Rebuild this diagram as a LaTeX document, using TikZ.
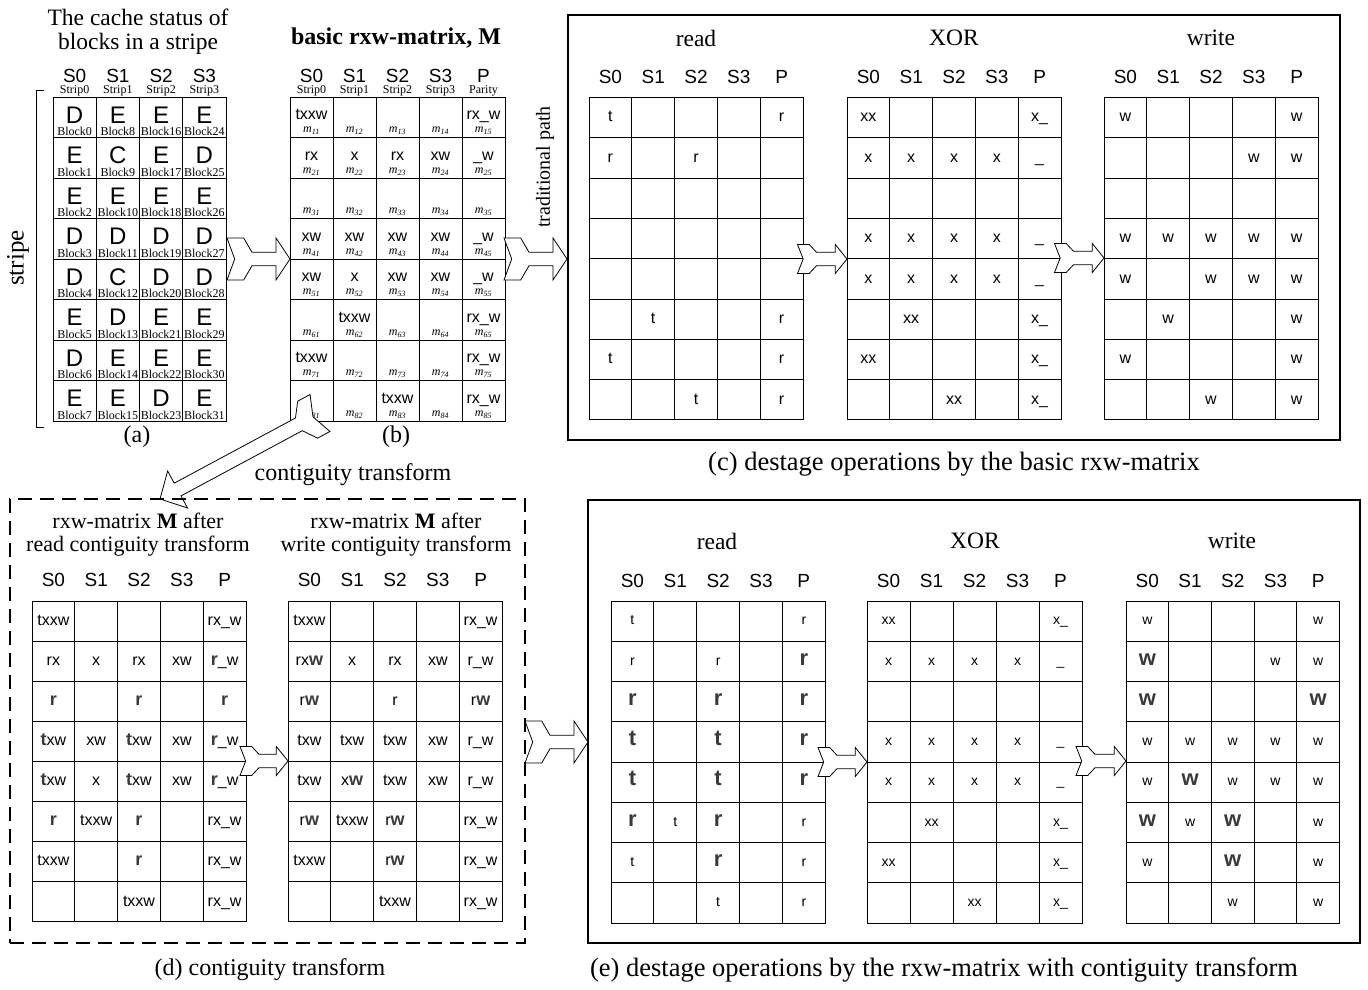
\documentclass[tikz,border=0pt]{standalone}
\usepackage{fontspec}
\setmainfont{Liberation Serif}
\setsansfont{Liberation Sans}
\usetikzlibrary{calc}
\definecolor{hl}{HTML}{3A3A3A}
\newcommand\fs[1]{\fontsize{#1}{#1}\selectfont}
\newcommand\hlD[1]{{\fs{18}\bfseries\color{hl}#1}}
\newcommand\hlE[1]{{\fs{22}\bfseries\color{hl}#1}}
\tikzset{
  gbox/.style={draw, line width=0.9pt, inner sep=0pt, anchor=center},
  hdr/.style={font=\sffamily\fs{19}, inner sep=0pt},
  ttl/.style={font=\fs{23.5}, inner sep=0pt},
  captxt/.style={font=\fs{24}, inner sep=0pt},
  bigcap/.style={font=\fs{26.5}, inner sep=0pt},
  subtxt/.style={font=\fs{12}, inner sep=0pt},
  ctxtC/.style={font=\sffamily\fs{16}, text height=8.5pt, text depth=0pt},
  ctxtD/.style={font=\sffamily\fs{16}, text height=8.5pt, text depth=0pt},
  ctxtE/.style={font=\sffamily\fs{14}, text height=7.5pt, text depth=0pt},
  btxt/.style={font=\sffamily\fs{16}, inner sep=0pt, text height=8.5pt, text depth=0pt},
  blockarrow/.style={draw, fill=white, line width=0.8pt, line join=miter},
  solidbox/.style={draw, line width=2.4pt, inner sep=0pt},
  dashbox/.style={draw, line width=2.6pt, dash pattern=on 14pt off 8pt, inner sep=0pt},
}
% grid: #1 name, #2 x0, #3 y0, #4 col w, #5 row h, #6 text style, #7 rows
\newcommand\mkgrid[7]{%
  \foreach \rowc [count=\i] in {#7} {
    \foreach \cellc [count=\j] in \rowc {
      \node[gbox, minimum width=#4pt, minimum height=#5pt, #6] (#1-\i-\j)
        at ({#2+(\j-0.5)*#4},{#3+(\i-0.5)*#5}) {\cellc};
    }
  }
}
% headers: #1 name, #2 x0, #3 col w, #4 y, #5 list
\newcommand\mkhdr[5]{%
  \foreach \hh [count=\j] in {#5} {
    \node[hdr] (#1-\j) at ({#2+(\j-0.5)*#3},#4) {\hh};
  }
}
% chevron block arrow: #1 tail, #2 tip, #3 H, #4 h, #5 a, #6 b, #7 head length, #8 notch
\newcommand\chev[8]{%
\draw[blockarrow]
 ($(#1)!#3pt!90:(#2)$) --
 ($ ($(#1)!#5pt!(#2)$) !#3pt!90:(#2) $) --
 ($ ($(#1)!#6pt!(#2)$) !#4pt!90:(#2) $) --
 ($ ($(#2)!#7pt!(#1)$) !#4pt!-90:(#1) $) --
 ($ ($(#2)!#7pt!(#1)$) !#3pt!-90:(#1) $) --
 (#2) --
 ($ ($(#2)!#7pt!(#1)$) !-#3pt!-90:(#1) $) --
 ($ ($(#2)!#7pt!(#1)$) !-#4pt!-90:(#1) $) --
 ($ ($(#1)!#6pt!(#2)$) !-#4pt!90:(#2) $) --
 ($ ($(#1)!#5pt!(#2)$) !-#3pt!90:(#2) $) --
 ($(#1)!-#3pt!90:(#2)$) --
 ($(#1)!#8pt!(#2)$) -- cycle;
}
\newcommand\bigchev[2]{\chev{#1}{#2}{21}{6.7}{16.7}{25}{14}{7.7}}
\newcommand\smallchev[2]{\chev{#1}{#2}{14.5}{6.7}{11.7}{19}{11.7}{5.7}}
\begin{document}
\begin{tikzpicture}[x=1pt,y=-1pt]
\useasboundingbox (0,0) rectangle (1368,990);
\fill[white] (0,0) rectangle (1368,990);

% ---------------- (a) ----------------
\node[ttl] (atitle1) at (138,17) {The cache status of};
\node[ttl] (atitle2) at (138,44) {blocks in a stripe};
\mkhdr{Ah}{53}{43.25}{76}{S0,S1,S2,S3}
\foreach \s [count=\j] in {0,1,2,3} {
  \node[subtxt] (As-\j) at ({53+(\j-0.5)*43.25},90.5) {Strip\s};
}
\foreach \rowc [count=\i] in {{D,E,E,E},{E,C,E,D},{E,E,E,E},{D,D,D,D},{D,C,D,D},{E,D,E,E},{D,E,E,E},{E,E,D,E}} {
  \foreach \cellc [count=\j] in \rowc {
    \pgfmathtruncatemacro\bn{(\j-1)*8+\i-1}
    \node[gbox, minimum width=43.25pt, minimum height=40.5pt] (A-\i-\j)
      at ({53+(\j-0.5)*43.25},{97+(\i-0.5)*40.5}) {};
    \node[font=\sffamily\fs{24}, inner sep=0pt, text height=17pt, text depth=0pt] (A-\i-\j-t)
      at ($(A-\i-\j.north)+(0,18)$) {\cellc};
    \node[subtxt] (A-\i-\j-b) at ($(A-\i-\j.south)+(0,-6.5)$) {Block\bn};
  }
}
\coordinate (brt) at (44,90);
\coordinate (brb) at (44,427);
\draw[line width=0.8pt] (brt) -- ++(-8,0) |- (brb);
\node[ttl, font=\fs{25}, rotate=90] (stripe) at (18,258) {stripe};
\node[captxt] (capa) at (137,437) {(a)};

% ---------------- (b) ----------------
\node[ttl, font=\fs{24}\bfseries] (btitle) at (396,38) {basic rxw-matrix, M};
\mkhdr{Bh}{290}{43}{76}{S0,S1,S2,S3,P}
\foreach \s [count=\j] in {Strip0,Strip1,Strip2,Strip3,Parity} {
  \node[subtxt] (Bs-\j) at ({290+(\j-0.5)*43},90.5) {\s};
}
\foreach \rowc [count=\i] in {{txxw,{},{},{},rx\_w},{rx,x,rx,xw,\_w},{{},{},{},{},{}},{xw,xw,xw,xw,\_w},{xw,x,xw,xw,\_w},{{},txxw,{},{},rx\_w},{txxw,{},{},{},rx\_w},{{},{},txxw,{},rx\_w}} {
  \foreach \cellc [count=\j] in \rowc {
    \node[gbox, minimum width=43pt, minimum height=40.5pt] (B-\i-\j)
      at ({290+(\j-0.5)*43},{97+(\i-0.5)*40.5}) {};
    \node[btxt] (B-\i-\j-t) at ($(B-\i-\j.north)+(0,19)$) {\cellc};
    \node[subtxt] (B-\i-\j-m) at ($(B-\i-\j.south)+(0,-7)$) {\textit{m}\textsubscript{\textit{\i\j}}};
  }
}
\node[captxt] (capb) at (396,437) {(b)};

% ---------------- (c) ----------------
\node[solidbox, minimum width=772pt, minimum height=425pt] (cbox) at (954,227.5) {};
\node[ttl] (cread) at (696,38) {read};
\node[ttl] (cxor) at (954,38) {XOR};
\node[ttl] (cwrite) at (1211,38) {write};
\mkhdr{CRh}{589}{42.8}{77}{S0,S1,S2,S3,P}
\mkhdr{CXh}{847}{42.8}{77}{S0,S1,S2,S3,P}
\mkhdr{CWh}{1104}{42.8}{77}{S0,S1,S2,S3,P}
\mkgrid{CR}{589}{97.5}{42.8}{40.3}{ctxtC}{{t,{},{},{},r},{r,{},r,{},{}},{{},{},{},{},{}},{{},{},{},{},{}},{{},{},{},{},{}},{{},t,{},{},r},{t,{},{},{},r},{{},{},t,{},r}}
\mkgrid{CX}{847}{97.5}{42.8}{40.3}{ctxtC}{{xx,{},{},{},x\_},{x,x,x,x,\_},{{},{},{},{},{}},{x,x,x,x,\_},{x,x,x,x,\_},{{},xx,{},{},x\_},{xx,{},{},{},x\_},{{},{},xx,{},x\_}}
\mkgrid{CW}{1104}{97.5}{42.8}{40.3}{ctxtC}{{w,{},{},{},w},{{},{},{},w,w},{{},{},{},{},{}},{w,w,w,w,w},{w,{},w,w,w},{{},w,{},{},w},{w,{},{},{},w},{{},{},w,{},w}}
\node[ttl, font=\fs{20}, rotate=90] (trad) at (545,167) {traditional path};
\node[bigcap] (capc) at (954,464) {(c) destage operations by the basic rxw-matrix};

% ---------------- (d) ----------------
\node[ttl, font=\fs{22}] (dl1) at (138,521) {rxw-matrix \textbf{M} after};
\node[ttl, font=\fs{22}] (dl2) at (138,546) {read contiguity transform};
\node[ttl, font=\fs{22}] (dr1) at (396,521) {rxw-matrix \textbf{M} after};
\node[ttl, font=\fs{22}] (dr2) at (396,546) {write contiguity transform};
\mkhdr{DLh}{32}{42.8}{580}{S0,S1,S2,S3,P}
\mkhdr{DRh}{288}{42.8}{580}{S0,S1,S2,S3,P}
\mkgrid{DL}{32}{601}{42.8}{40.1}{ctxtD}{{txxw,{},{},{},rx\_w},{rx,x,rx,xw,\hlD{r}\_w},{\hlD{r},{},\hlD{r},{},\hlD{r}},{\hlD{t}xw,xw,\hlD{t}xw,xw,\hlD{r}\_w},{\hlD{t}xw,x,\hlD{t}xw,xw,\hlD{r}\_w},{\hlD{r},txxw,\hlD{r},{},rx\_w},{txxw,{},\hlD{r},{},rx\_w},{{},{},txxw,{},rx\_w}}
\mkgrid{DR}{288}{601}{42.8}{40.1}{ctxtD}{{txxw,{},{},{},rx\_w},{rx\hlD{w},x,rx,xw,r\_w},{r\hlD{w},{},r,{},r\hlD{w}},{txw,txw,txw,xw,r\_w},{txw,x\hlD{w},txw,xw,r\_w},{r\hlD{w},txxw,r\hlD{w},{},rx\_w},{txxw,{},r\hlD{w},{},rx\_w},{{},{},txxw,{},rx\_w}}
\node[captxt] (capd) at (270,970) {(d) contiguity transform};

% ---------------- (e) ----------------
\node[solidbox, minimum width=772pt, minimum height=443pt] (ebox) at (974,721.5) {};
\node[ttl] (eread) at (717,541) {read};
\node[ttl] (exor) at (975,541) {XOR};
\node[ttl] (ewrite) at (1232,541) {write};
\mkhdr{ERh}{611}{42.85}{581}{S0,S1,S2,S3,P}
\mkhdr{EXh}{867}{43}{581}{S0,S1,S2,S3,P}
\mkhdr{EWh}{1126}{42.7}{581}{S0,S1,S2,S3,P}
\mkgrid{ER}{611}{601}{42.85}{40.25}{ctxtE}{{t,{},{},{},r},{r,{},r,{},\hlE{r}},{\hlE{r},{},\hlE{r},{},\hlE{r}},{\hlE{t},{},\hlE{t},{},\hlE{r}},{\hlE{t},{},\hlE{t},{},\hlE{r}},{\hlE{r},t,\hlE{r},{},r},{t,{},\hlE{r},{},r},{{},{},t,{},r}}
\mkgrid{EX}{867}{601}{43}{40.25}{ctxtE}{{xx,{},{},{},x\_},{x,x,x,x,\_},{{},{},{},{},{}},{x,x,x,x,\_},{x,x,x,x,\_},{{},xx,{},{},x\_},{xx,{},{},{},x\_},{{},{},xx,{},x\_}}
\mkgrid{EW}{1126}{601}{42.7}{40.25}{ctxtE}{{w,{},{},{},w},{\hlE{w},{},{},w,w},{\hlE{w},{},{},{},\hlE{w}},{w,w,w,w,w},{w,\hlE{w},w,w,w},{\hlE{w},w,\hlE{w},{},w},{w,{},\hlE{w},{},w},{{},{},w,{},w}}
\node[bigcap] (cape) at (944,970) {(e) destage operations by the rxw-matrix with contiguity transform};

% ---------------- arrows ----------------
\coordinate (ab-s) at (227,259);   \coordinate (ab-e) at (290,259);
\coordinate (bc-s) at (504,259);   \coordinate (bc-e) at (567,259);
\coordinate (c1-s) at (797.5,259); \coordinate (c1-e) at (847,259);
\coordinate (c2-s) at (1054.5,258);\coordinate (c2-e) at (1104,258);
\coordinate (d1-s) at (240,761);   \coordinate (d1-e) at (288,761);
\coordinate (de-s) at (525,742);   \coordinate (de-e) at (588,742);
\coordinate (e1-s) at (818,762);   \coordinate (e1-e) at (867,762);
\coordinate (e2-s) at (1076,761);  \coordinate (e2-e) at (1126,761);
\coordinate (ct-s) at (320,413);   \coordinate (ct-e) at (160,499);
\bigchev{ab-s}{ab-e}
\bigchev{bc-s}{bc-e}
\smallchev{c1-s}{c1-e}
\smallchev{c2-s}{c2-e}
\smallchev{d1-s}{d1-e}
\bigchev{de-s}{de-e}
\smallchev{e1-s}{e1-e}
\smallchev{e2-s}{e2-e}
\chev{ct-s}{ct-e}{21}{7.2}{14}{24}{20}{8}
\node[captxt] (ctlabel) at (353,475) {contiguity transform};

\node[dashbox, minimum width=515pt, minimum height=444pt] (dbox) at (267.5,721) {};
\end{tikzpicture}
\end{document}
